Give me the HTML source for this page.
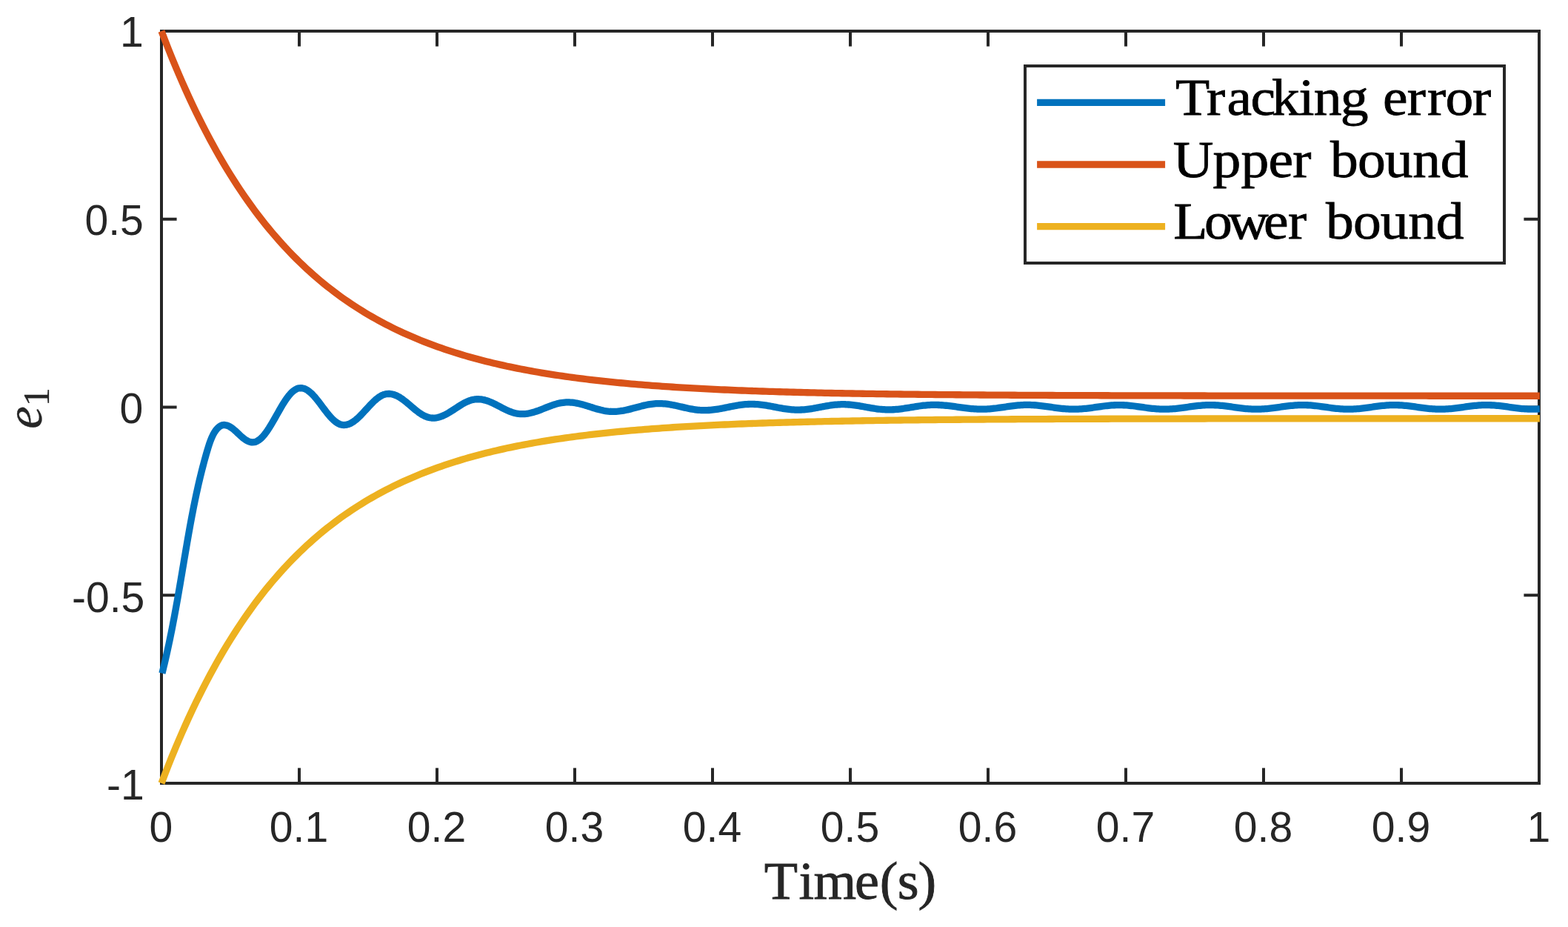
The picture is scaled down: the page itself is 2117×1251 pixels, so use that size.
<!DOCTYPE html>
<html lang="en"><head><meta charset="utf-8"><title>Tracking error</title>
<style>
html,body{margin:0;padding:0;background:#fff;}
body{width:2117px;height:1251px;overflow:hidden;}
svg{display:block;}
.tk{font-family:"Liberation Sans",sans-serif;font-size:58px;fill:#262626;}
.lb{font-family:"Liberation Serif",serif;font-size:70px;fill:#262626;stroke:#262626;stroke-width:0.8px;}
.lg{font-family:"Liberation Serif",serif;font-size:70px;fill:#000;stroke:#000;stroke-width:0.8px;}
</style></head><body>
<svg width="2117" height="1251" viewBox="0 0 2117 1251">
<rect x="0" y="0" width="2117" height="1251" fill="#fff"/>

<g stroke="#262626" stroke-width="4" fill="none" stroke-linecap="butt">
<rect x="218.0" y="42.0" width="1860.0" height="1015.0"/>
<line x1="404.0" y1="1057.0" x2="404.0" y2="1036.4"/>
<line x1="404.0" y1="42.0" x2="404.0" y2="62.6"/>
<line x1="590.0" y1="1057.0" x2="590.0" y2="1036.4"/>
<line x1="590.0" y1="42.0" x2="590.0" y2="62.6"/>
<line x1="776.0" y1="1057.0" x2="776.0" y2="1036.4"/>
<line x1="776.0" y1="42.0" x2="776.0" y2="62.6"/>
<line x1="962.0" y1="1057.0" x2="962.0" y2="1036.4"/>
<line x1="962.0" y1="42.0" x2="962.0" y2="62.6"/>
<line x1="1148.0" y1="1057.0" x2="1148.0" y2="1036.4"/>
<line x1="1148.0" y1="42.0" x2="1148.0" y2="62.6"/>
<line x1="1334.0" y1="1057.0" x2="1334.0" y2="1036.4"/>
<line x1="1334.0" y1="42.0" x2="1334.0" y2="62.6"/>
<line x1="1520.0" y1="1057.0" x2="1520.0" y2="1036.4"/>
<line x1="1520.0" y1="42.0" x2="1520.0" y2="62.6"/>
<line x1="1706.0" y1="1057.0" x2="1706.0" y2="1036.4"/>
<line x1="1706.0" y1="42.0" x2="1706.0" y2="62.6"/>
<line x1="1892.0" y1="1057.0" x2="1892.0" y2="1036.4"/>
<line x1="1892.0" y1="42.0" x2="1892.0" y2="62.6"/>
<line x1="218.0" y1="295.75" x2="238.6" y2="295.75"/>
<line x1="2078.0" y1="295.75" x2="2057.4" y2="295.75"/>
<line x1="218.0" y1="549.50" x2="238.6" y2="549.50"/>
<line x1="2078.0" y1="549.50" x2="2057.4" y2="549.50"/>
<line x1="218.0" y1="803.25" x2="238.6" y2="803.25"/>
<line x1="2078.0" y1="803.25" x2="2057.4" y2="803.25"/>
</g>
<g class="tk">
<text transform="translate(217.5,1136.3) scale(0.985,1)" text-anchor="middle">0</text>
<text transform="translate(403.5,1136.3) scale(0.985,1)" text-anchor="middle">0.1</text>
<text transform="translate(589.5,1136.3) scale(0.985,1)" text-anchor="middle">0.2</text>
<text transform="translate(775.5,1136.3) scale(0.985,1)" text-anchor="middle">0.3</text>
<text transform="translate(961.5,1136.3) scale(0.985,1)" text-anchor="middle">0.4</text>
<text transform="translate(1147.5,1136.3) scale(0.985,1)" text-anchor="middle">0.5</text>
<text transform="translate(1333.5,1136.3) scale(0.985,1)" text-anchor="middle">0.6</text>
<text transform="translate(1519.5,1136.3) scale(0.985,1)" text-anchor="middle">0.7</text>
<text transform="translate(1705.5,1136.3) scale(0.985,1)" text-anchor="middle">0.8</text>
<text transform="translate(1891.5,1136.3) scale(0.985,1)" text-anchor="middle">0.9</text>
<text transform="translate(2077.5,1136.3) scale(0.985,1)" text-anchor="middle">1</text>
<text transform="translate(193.7,63.0) scale(0.985,1)" text-anchor="end">1</text>
<text transform="translate(193.8,317.4) scale(0.985,1)" text-anchor="end">0.5</text>
<text transform="translate(193.3,571.2) scale(0.985,1)" text-anchor="end">0</text>
<text transform="translate(195.3,825.5) scale(0.985,1)" text-anchor="end">-0.5</text>
<text transform="translate(194.7,1079.0) scale(0.985,1)" text-anchor="end">-1</text>
</g>
<text class="lb" transform="translate(0,1212.90) scale(1.06,1.02)" x="973.43 1017.52 1036.31 1088.79 1120.48 1143.19 1169.42" y="0">Time(s)</text>
<text class="lb" style="font-size:69px;font-style:italic;stroke-width:0.3px" transform="translate(56.2,578.8) rotate(-90)">e</text>
<text class="lb" style="font-size:50px;stroke-width:0.3px" transform="translate(66.1,548.2) rotate(-90)">1</text>
<g fill="none" stroke-width="9.3" stroke-linejoin="round" stroke-linecap="butt">
<path stroke="#0072BD" d="M218.93,908.60 L220.02,904.19 L221.08,899.77 L222.13,895.36 L223.16,890.94 L224.17,886.53 L225.16,882.11 L226.14,877.70 L227.10,873.28 L228.05,868.87 L228.97,864.46 L229.89,860.04 L230.79,855.63 L231.68,851.21 L232.55,846.80 L233.41,842.38 L234.26,837.97 L235.09,833.55 L235.92,829.14 L236.74,824.72 L237.54,820.31 L238.34,815.90 L239.13,811.48 L239.91,807.07 L240.68,802.65 L241.45,798.24 L242.21,793.82 L242.97,789.41 L243.72,784.99 L244.47,780.58 L245.21,776.17 L245.96,771.75 L246.70,767.34 L247.44,762.92 L248.18,758.51 L248.93,754.09 L249.67,749.68 L250.42,745.26 L251.17,740.85 L251.92,736.43 L252.68,732.02 L253.45,727.61 L254.22,723.19 L255.00,718.78 L255.79,714.36 L256.59,709.95 L257.40,705.53 L258.21,701.12 L259.05,696.70 L259.89,692.29 L260.75,687.88 L261.62,683.46 L262.51,679.05 L263.42,674.63 L264.34,670.22 L265.29,665.80 L266.25,661.39 L267.23,656.97 L268.24,652.56 L269.27,648.14 L270.32,643.73 L271.40,639.32 L272.51,634.90 L273.64,630.49 L274.80,626.07 L275.99,621.66 L277.21,617.24 L278.46,612.83 L279.75,608.41 L281.07,604.00 L281.60,602.28 L282.13,600.62 L282.66,599.02 L283.19,597.49 L283.72,596.01 L284.25,594.59 L284.78,593.23 L285.31,591.93 L285.84,590.68 L286.38,589.49 L286.91,588.35 L287.44,587.26 L287.97,586.22 L288.50,585.23 L289.03,584.30 L289.56,583.41 L290.09,582.57 L290.62,581.77 L291.15,581.02 L291.68,580.32 L292.21,579.65 L292.75,579.03 L293.28,578.45 L293.81,577.89 L294.34,577.37 L294.87,576.88 L295.40,576.42 L295.93,575.99 L296.46,575.60 L296.99,575.24 L297.52,574.91 L298.05,574.62 L298.58,574.36 L299.12,574.13 L299.65,573.94 L300.18,573.78 L300.71,573.66 L301.24,573.57 L301.77,573.52 L302.30,573.50 L304.34,573.66 L306.38,574.13 L308.43,574.91 L310.47,575.97 L312.51,577.28 L314.55,578.80 L316.59,580.50 L318.64,582.33 L320.68,584.23 L322.72,586.17 L324.76,588.07 L326.81,589.90 L328.85,591.60 L330.89,593.12 L332.93,594.43 L334.97,595.49 L337.02,596.27 L339.06,596.74 L341.10,596.90 L343.12,596.72 L345.14,596.20 L347.17,595.32 L349.19,594.11 L351.21,592.57 L353.23,590.72 L355.25,588.58 L357.28,586.17 L359.30,583.50 L361.32,580.61 L363.34,577.53 L365.36,574.28 L367.38,570.89 L369.41,567.40 L371.43,563.84 L373.45,560.25 L375.47,556.66 L377.49,553.10 L379.52,549.61 L381.54,546.22 L383.56,542.97 L385.58,539.89 L387.60,537.00 L389.62,534.33 L391.65,531.92 L393.67,529.78 L395.69,527.93 L397.71,526.39 L399.73,525.18 L401.76,524.30 L403.78,523.78 L405.80,523.60 L407.82,523.75 L409.83,524.18 L411.85,524.91 L413.87,525.91 L415.89,527.18 L417.90,528.70 L419.92,530.45 L421.94,532.42 L423.96,534.57 L425.97,536.89 L427.99,539.35 L430.01,541.91 L432.02,544.56 L434.04,547.25 L436.06,549.95 L438.08,552.64 L440.09,555.29 L442.11,557.85 L444.13,560.31 L446.14,562.63 L448.16,564.78 L450.18,566.75 L452.20,568.50 L454.21,570.02 L456.23,571.29 L458.25,572.29 L460.27,573.02 L462.28,573.45 L464.30,573.60 L466.31,573.48 L468.31,573.14 L470.32,572.57 L472.33,571.78 L474.33,570.77 L476.34,569.57 L478.35,568.18 L480.35,566.62 L482.36,564.90 L484.37,563.05 L486.37,561.08 L488.38,559.02 L490.39,556.89 L492.39,554.71 L494.40,552.50 L496.41,550.29 L498.41,548.11 L500.42,545.98 L502.43,543.92 L504.43,541.95 L506.44,540.10 L508.45,538.38 L510.45,536.82 L512.46,535.43 L514.47,534.23 L516.47,533.22 L518.48,532.43 L520.49,531.86 L522.49,531.52 L524.50,531.40 L526.50,531.49 L528.50,531.76 L530.50,532.20 L532.50,532.81 L534.50,533.59 L536.50,534.52 L538.50,535.60 L540.50,536.81 L542.50,538.14 L544.50,539.57 L546.50,541.10 L548.50,542.70 L550.50,544.35 L552.50,546.04 L554.50,547.75 L556.50,549.46 L558.50,551.15 L560.50,552.80 L562.50,554.40 L564.50,555.92 L566.50,557.36 L568.50,558.69 L570.50,559.90 L572.50,560.98 L574.50,561.91 L576.50,562.69 L578.50,563.30 L580.50,563.74 L582.50,564.01 L584.50,564.10 L586.51,564.03 L588.53,563.82 L590.54,563.48 L592.55,563.00 L594.57,562.40 L596.58,561.67 L598.59,560.84 L600.61,559.90 L602.62,558.86 L604.63,557.75 L606.65,556.57 L608.66,555.32 L610.67,554.04 L612.69,552.73 L614.70,551.40 L616.71,550.07 L618.73,548.76 L620.74,547.48 L622.75,546.23 L624.77,545.05 L626.78,543.94 L628.79,542.90 L630.81,541.96 L632.82,541.13 L634.83,540.40 L636.85,539.80 L638.86,539.32 L640.87,538.98 L642.89,538.77 L644.90,538.70 L646.95,538.76 L649.00,538.93 L651.06,539.22 L653.11,539.62 L655.16,540.13 L657.21,540.74 L659.26,541.44 L661.31,542.23 L663.37,543.09 L665.42,544.02 L667.47,545.00 L669.52,546.02 L671.57,547.08 L673.62,548.16 L675.68,549.24 L677.73,550.32 L679.78,551.38 L681.83,552.40 L683.88,553.38 L685.93,554.31 L687.99,555.17 L690.04,555.96 L692.09,556.66 L694.14,557.27 L696.19,557.78 L698.24,558.18 L700.30,558.47 L702.35,558.64 L704.40,558.70 L706.40,558.66 L708.40,558.54 L710.40,558.34 L712.40,558.06 L714.40,557.71 L716.40,557.28 L718.40,556.79 L720.40,556.24 L722.40,555.64 L724.40,554.98 L726.40,554.28 L728.40,553.54 L730.40,552.78 L732.40,552.00 L734.40,551.20 L736.40,550.40 L738.40,549.60 L740.40,548.82 L742.40,548.06 L744.40,547.32 L746.40,546.62 L748.40,545.96 L750.40,545.36 L752.40,544.81 L754.40,544.32 L756.40,543.89 L758.40,543.54 L760.40,543.26 L762.40,543.06 L764.40,542.94 L766.40,542.90 L768.44,542.93 L770.48,543.04 L772.52,543.21 L774.56,543.44 L776.60,543.74 L778.64,544.09 L780.68,544.51 L782.72,544.97 L784.76,545.48 L786.80,546.02 L788.84,546.61 L790.88,547.22 L792.92,547.85 L794.96,548.50 L797.00,549.15 L799.04,549.80 L801.08,550.45 L803.12,551.08 L805.16,551.69 L807.20,552.27 L809.24,552.82 L811.28,553.33 L813.32,553.79 L815.36,554.21 L817.40,554.56 L819.44,554.86 L821.48,555.09 L823.52,555.26 L825.56,555.37 L827.60,555.40 L829.60,555.37 L831.60,555.29 L833.60,555.15 L835.60,554.96 L837.60,554.72 L839.60,554.43 L841.60,554.10 L843.60,553.72 L845.60,553.31 L847.60,552.86 L849.60,552.38 L851.60,551.88 L853.60,551.35 L855.60,550.82 L857.60,550.27 L859.60,549.73 L861.60,549.18 L863.60,548.65 L865.60,548.12 L867.60,547.62 L869.60,547.14 L871.60,546.69 L873.60,546.28 L875.60,545.90 L877.60,545.57 L879.60,545.28 L881.60,545.04 L883.60,544.85 L885.60,544.71 L887.60,544.63 L889.60,544.60 L891.64,544.62 L893.69,544.70 L895.73,544.82 L897.77,544.99 L899.82,545.21 L901.86,545.47 L903.90,545.77 L905.95,546.11 L907.99,546.48 L910.03,546.88 L912.08,547.30 L914.12,547.74 L916.16,548.20 L918.21,548.67 L920.25,549.15 L922.29,549.63 L924.34,550.10 L926.38,550.56 L928.42,551.00 L930.47,551.43 L932.51,551.82 L934.55,552.19 L936.60,552.53 L938.64,552.83 L940.68,553.09 L942.73,553.31 L944.77,553.48 L946.81,553.60 L948.86,553.68 L950.90,553.70 L952.95,553.68 L955.01,553.62 L957.06,553.51 L959.12,553.36 L961.17,553.18 L963.23,552.96 L965.28,552.70 L967.34,552.41 L969.39,552.09 L971.45,551.75 L973.50,551.38 L975.56,550.99 L977.61,550.59 L979.67,550.18 L981.72,549.76 L983.78,549.34 L985.83,548.92 L987.89,548.51 L989.94,548.11 L992.00,547.72 L994.05,547.35 L996.11,547.01 L998.16,546.69 L1000.22,546.40 L1002.27,546.14 L1004.33,545.92 L1006.38,545.74 L1008.44,545.59 L1010.49,545.48 L1012.55,545.42 L1014.60,545.40 L1016.63,545.42 L1018.66,545.48 L1020.69,545.58 L1022.72,545.71 L1024.75,545.88 L1026.77,546.09 L1028.80,546.33 L1030.83,546.60 L1032.86,546.89 L1034.89,547.21 L1036.92,547.55 L1038.95,547.91 L1040.98,548.28 L1043.01,548.67 L1045.04,549.06 L1047.06,549.44 L1049.09,549.83 L1051.12,550.22 L1053.15,550.59 L1055.18,550.95 L1057.21,551.29 L1059.24,551.61 L1061.27,551.90 L1063.30,552.17 L1065.33,552.41 L1067.35,552.62 L1069.38,552.79 L1071.41,552.92 L1073.44,553.02 L1075.47,553.08 L1077.50,553.10 L1079.51,553.08 L1081.52,553.02 L1083.53,552.92 L1085.54,552.78 L1087.55,552.60 L1089.56,552.39 L1091.57,552.15 L1093.58,551.88 L1095.59,551.57 L1097.60,551.25 L1099.61,550.90 L1101.62,550.54 L1103.63,550.17 L1105.64,549.79 L1107.65,549.40 L1109.66,549.01 L1111.67,548.63 L1113.68,548.26 L1115.69,547.90 L1117.70,547.55 L1119.71,547.23 L1121.72,546.92 L1123.73,546.65 L1125.74,546.41 L1127.75,546.20 L1129.76,546.02 L1131.77,545.88 L1133.78,545.78 L1135.79,545.72 L1137.80,545.70 L1139.80,545.72 L1141.80,545.77 L1143.80,545.87 L1145.80,545.99 L1147.80,546.15 L1149.80,546.35 L1151.80,546.57 L1153.80,546.82 L1155.80,547.10 L1157.80,547.40 L1159.80,547.71 L1161.80,548.05 L1163.80,548.40 L1165.80,548.75 L1167.80,549.12 L1169.80,549.48 L1171.80,549.85 L1173.80,550.20 L1175.80,550.55 L1177.80,550.89 L1179.80,551.20 L1181.80,551.50 L1183.80,551.78 L1185.80,552.03 L1187.80,552.25 L1189.80,552.45 L1191.80,552.61 L1193.80,552.73 L1195.80,552.83 L1197.80,552.88 L1199.80,552.90 L1201.84,552.88 L1203.89,552.83 L1205.93,552.74 L1207.97,552.62 L1210.02,552.46 L1212.06,552.28 L1214.10,552.07 L1216.15,551.82 L1218.19,551.56 L1220.23,551.27 L1222.28,550.97 L1224.32,550.65 L1226.36,550.33 L1228.41,549.99 L1230.45,549.65 L1232.49,549.31 L1234.54,548.97 L1236.58,548.65 L1238.62,548.33 L1240.67,548.02 L1242.71,547.74 L1244.75,547.48 L1246.80,547.23 L1248.84,547.02 L1250.88,546.84 L1252.93,546.68 L1254.97,546.56 L1257.01,546.47 L1259.06,546.42 L1261.10,546.40 L1263.12,546.41 L1265.14,546.46 L1267.16,546.52 L1269.17,546.62 L1271.19,546.74 L1273.21,546.89 L1275.23,547.06 L1277.25,547.25 L1279.27,547.46 L1281.29,547.69 L1283.31,547.93 L1285.33,548.19 L1287.34,548.46 L1289.36,548.73 L1291.38,549.02 L1293.40,549.30 L1295.42,549.58 L1297.44,549.87 L1299.46,550.14 L1301.47,550.41 L1303.49,550.67 L1305.51,550.91 L1307.53,551.14 L1309.55,551.35 L1311.57,551.54 L1313.59,551.71 L1315.61,551.86 L1317.62,551.98 L1319.64,552.08 L1321.66,552.14 L1323.68,552.19 L1325.70,552.20 L1327.74,552.18 L1329.77,552.14 L1331.81,552.06 L1333.85,551.95 L1335.88,551.81 L1337.92,551.65 L1339.96,551.46 L1341.99,551.24 L1344.03,551.00 L1346.07,550.75 L1348.10,550.48 L1350.14,550.20 L1352.18,549.90 L1354.21,549.60 L1356.25,549.30 L1358.29,549.00 L1360.32,548.70 L1362.36,548.40 L1364.40,548.12 L1366.43,547.85 L1368.47,547.60 L1370.51,547.36 L1372.54,547.14 L1374.58,546.95 L1376.62,546.79 L1378.65,546.65 L1380.69,546.54 L1382.73,546.46 L1384.76,546.42 L1386.80,546.40 L1388.83,546.41 L1390.86,546.46 L1392.89,546.53 L1394.92,546.64 L1396.95,546.76 L1398.97,546.92 L1401.00,547.10 L1403.03,547.30 L1405.06,547.52 L1407.09,547.77 L1409.12,548.02 L1411.15,548.29 L1413.18,548.57 L1415.21,548.86 L1417.24,549.15 L1419.26,549.45 L1421.29,549.74 L1423.32,550.03 L1425.35,550.31 L1427.38,550.58 L1429.41,550.83 L1431.44,551.08 L1433.47,551.30 L1435.50,551.50 L1437.53,551.68 L1439.55,551.84 L1441.58,551.96 L1443.61,552.07 L1445.64,552.14 L1447.67,552.19 L1449.70,552.20 L1451.74,552.18 L1453.78,552.14 L1455.82,552.06 L1457.86,551.96 L1459.90,551.82 L1461.94,551.67 L1463.98,551.48 L1466.02,551.27 L1468.06,551.05 L1470.10,550.80 L1472.14,550.54 L1474.18,550.27 L1476.22,549.98 L1478.26,549.69 L1480.30,549.40 L1482.34,549.11 L1484.38,548.82 L1486.42,548.53 L1488.46,548.26 L1490.50,548.00 L1492.54,547.75 L1494.58,547.53 L1496.62,547.32 L1498.66,547.13 L1500.70,546.98 L1502.74,546.84 L1504.78,546.74 L1506.82,546.66 L1508.86,546.62 L1510.90,546.60 L1512.94,546.62 L1514.98,546.66 L1517.02,546.74 L1519.06,546.84 L1521.10,546.98 L1523.14,547.13 L1525.18,547.32 L1527.22,547.53 L1529.26,547.75 L1531.30,548.00 L1533.34,548.26 L1535.38,548.53 L1537.42,548.82 L1539.46,549.11 L1541.50,549.40 L1543.54,549.69 L1545.58,549.98 L1547.62,550.27 L1549.66,550.54 L1551.70,550.80 L1553.74,551.05 L1555.78,551.27 L1557.82,551.48 L1559.86,551.67 L1561.90,551.82 L1563.94,551.96 L1565.98,552.06 L1568.02,552.14 L1570.06,552.18 L1572.10,552.20 L1574.10,552.19 L1576.11,552.14 L1578.11,552.07 L1580.11,551.97 L1582.12,551.85 L1584.12,551.70 L1586.12,551.52 L1588.13,551.33 L1590.13,551.11 L1592.13,550.88 L1594.14,550.63 L1596.14,550.37 L1598.14,550.10 L1600.15,549.82 L1602.15,549.54 L1604.15,549.26 L1606.15,548.98 L1608.16,548.70 L1610.16,548.43 L1612.16,548.17 L1614.17,547.92 L1616.17,547.69 L1618.17,547.47 L1620.18,547.28 L1622.18,547.10 L1624.18,546.95 L1626.19,546.83 L1628.19,546.73 L1630.19,546.66 L1632.20,546.61 L1634.20,546.60 L1636.20,546.61 L1638.20,546.66 L1640.20,546.73 L1642.20,546.83 L1644.20,546.95 L1646.20,547.10 L1648.20,547.28 L1650.20,547.47 L1652.20,547.69 L1654.20,547.92 L1656.20,548.17 L1658.20,548.43 L1660.20,548.70 L1662.20,548.98 L1664.20,549.26 L1666.20,549.54 L1668.20,549.82 L1670.20,550.10 L1672.20,550.37 L1674.20,550.63 L1676.20,550.88 L1678.20,551.11 L1680.20,551.33 L1682.20,551.52 L1684.20,551.70 L1686.20,551.85 L1688.20,551.97 L1690.20,552.07 L1692.20,552.14 L1694.20,552.19 L1696.20,552.20 L1698.23,552.19 L1700.25,552.14 L1702.28,552.07 L1704.30,551.97 L1706.33,551.85 L1708.35,551.70 L1710.38,551.52 L1712.41,551.33 L1714.43,551.11 L1716.46,550.88 L1718.48,550.63 L1720.51,550.37 L1722.54,550.10 L1724.56,549.82 L1726.59,549.54 L1728.61,549.26 L1730.64,548.98 L1732.66,548.70 L1734.69,548.43 L1736.72,548.17 L1738.74,547.92 L1740.77,547.69 L1742.79,547.47 L1744.82,547.28 L1746.85,547.10 L1748.87,546.95 L1750.90,546.83 L1752.92,546.73 L1754.95,546.66 L1756.97,546.61 L1759.00,546.60 L1761.05,546.62 L1763.10,546.66 L1765.15,546.74 L1767.20,546.84 L1769.25,546.98 L1771.30,547.13 L1773.35,547.32 L1775.40,547.53 L1777.45,547.75 L1779.50,548.00 L1781.55,548.26 L1783.60,548.53 L1785.65,548.82 L1787.70,549.11 L1789.75,549.40 L1791.80,549.69 L1793.85,549.98 L1795.90,550.27 L1797.95,550.54 L1800.00,550.80 L1802.05,551.05 L1804.10,551.27 L1806.15,551.48 L1808.20,551.67 L1810.25,551.82 L1812.30,551.96 L1814.35,552.06 L1816.40,552.14 L1818.45,552.18 L1820.50,552.20 L1822.50,552.19 L1824.50,552.14 L1826.50,552.07 L1828.50,551.97 L1830.50,551.85 L1832.50,551.70 L1834.50,551.52 L1836.50,551.33 L1838.50,551.11 L1840.50,550.88 L1842.50,550.63 L1844.50,550.37 L1846.50,550.10 L1848.50,549.82 L1850.50,549.54 L1852.50,549.26 L1854.50,548.98 L1856.50,548.70 L1858.50,548.43 L1860.50,548.17 L1862.50,547.92 L1864.50,547.69 L1866.50,547.47 L1868.50,547.28 L1870.50,547.10 L1872.50,546.95 L1874.50,546.83 L1876.50,546.73 L1878.50,546.66 L1880.50,546.61 L1882.50,546.60 L1884.50,546.61 L1886.51,546.66 L1888.51,546.73 L1890.51,546.83 L1892.52,546.95 L1894.52,547.10 L1896.52,547.28 L1898.53,547.47 L1900.53,547.69 L1902.53,547.92 L1904.54,548.17 L1906.54,548.43 L1908.54,548.70 L1910.55,548.98 L1912.55,549.26 L1914.55,549.54 L1916.55,549.82 L1918.56,550.10 L1920.56,550.37 L1922.56,550.63 L1924.57,550.88 L1926.57,551.11 L1928.57,551.33 L1930.58,551.52 L1932.58,551.70 L1934.58,551.85 L1936.59,551.97 L1938.59,552.07 L1940.59,552.14 L1942.60,552.19 L1944.60,552.20 L1946.61,552.19 L1948.63,552.14 L1950.64,552.07 L1952.65,551.97 L1954.66,551.85 L1956.68,551.70 L1958.69,551.52 L1960.70,551.33 L1962.72,551.11 L1964.73,550.88 L1966.74,550.63 L1968.75,550.37 L1970.77,550.10 L1972.78,549.82 L1974.79,549.54 L1976.81,549.26 L1978.82,548.98 L1980.83,548.70 L1982.85,548.43 L1984.86,548.17 L1986.87,547.92 L1988.88,547.69 L1990.90,547.47 L1992.91,547.28 L1994.92,547.10 L1996.94,546.95 L1998.95,546.83 L2000.96,546.73 L2002.97,546.66 L2004.99,546.61 L2007.00,546.60 L2009.00,546.61 L2011.00,546.66 L2013.00,546.73 L2015.00,546.83 L2017.00,546.95 L2019.00,547.10 L2021.00,547.28 L2023.00,547.47 L2025.00,547.69 L2027.00,547.92 L2029.00,548.17 L2031.00,548.43 L2033.00,548.70 L2035.00,548.98 L2037.00,549.26 L2039.00,549.54 L2041.00,549.82 L2043.00,550.10 L2045.00,550.37 L2047.00,550.63 L2049.00,550.88 L2051.00,551.11 L2053.00,551.33 L2055.00,551.52 L2057.00,551.70 L2059.00,551.85 L2061.00,551.97 L2063.00,552.07 L2065.00,552.14 L2067.00,552.19 L2069.00,552.20 L2071.00,552.19 L2073.00,552.14 L2075.00,552.07 L2077.00,551.97 L2079.00,551.85 L2079.00,551.85"/>
<path stroke="#D95319" d="M218.00,42.00 L222.66,54.19 L227.33,66.08 L231.99,77.67 L236.66,88.98 L241.32,100.01 L245.98,110.76 L250.65,121.25 L255.31,131.48 L259.98,141.45 L264.64,151.18 L269.31,160.67 L273.97,169.92 L278.63,178.94 L283.30,187.74 L287.96,196.33 L292.63,204.69 L297.29,212.86 L301.95,220.82 L306.62,228.58 L311.28,236.15 L315.95,243.53 L320.61,250.73 L325.28,257.75 L329.94,264.60 L334.60,271.28 L339.27,277.79 L343.93,284.14 L348.60,290.34 L353.26,296.38 L357.92,302.27 L362.59,308.02 L367.25,313.62 L371.92,319.08 L376.58,324.41 L381.25,329.61 L385.91,334.68 L390.57,339.62 L395.24,344.44 L399.90,349.14 L404.57,353.73 L409.23,358.20 L413.89,362.56 L418.56,366.81 L423.22,370.96 L427.89,375.00 L432.55,378.95 L437.22,382.79 L441.88,386.55 L446.54,390.20 L451.21,393.77 L455.87,397.25 L460.54,400.64 L465.20,403.95 L469.86,407.18 L474.53,410.33 L479.19,413.40 L483.86,416.39 L488.52,419.31 L493.19,422.16 L497.85,424.93 L502.51,427.64 L507.18,430.28 L511.84,432.86 L516.51,435.37 L521.17,437.82 L525.83,440.21 L530.50,442.54 L535.16,444.81 L539.83,447.02 L544.49,449.19 L549.16,451.29 L553.82,453.35 L558.48,455.35 L563.15,457.31 L567.81,459.21 L572.48,461.07 L577.14,462.88 L581.80,464.65 L586.47,466.38 L591.13,468.06 L595.80,469.70 L600.46,471.30 L605.13,472.86 L609.79,474.38 L614.45,475.86 L619.12,477.31 L623.78,478.72 L628.45,480.09 L633.11,481.44 L637.77,482.74 L642.44,484.02 L647.10,485.26 L651.77,486.48 L656.43,487.66 L661.10,488.82 L665.76,489.94 L670.42,491.04 L675.09,492.11 L679.75,493.15 L684.42,494.17 L689.08,495.17 L693.74,496.13 L698.41,497.08 L703.07,498.00 L707.74,498.90 L712.40,499.77 L717.07,500.63 L721.73,501.46 L726.39,502.27 L731.06,503.07 L735.72,503.84 L740.39,504.59 L745.05,505.33 L749.71,506.05 L754.38,506.74 L759.04,507.43 L763.71,508.09 L768.37,508.74 L773.04,509.37 L777.70,509.99 L782.36,510.59 L787.03,511.18 L791.69,511.75 L796.36,512.31 L801.02,512.85 L805.68,513.38 L810.35,513.90 L815.01,514.40 L819.68,514.90 L824.34,515.38 L829.01,515.84 L833.67,516.30 L838.33,516.75 L843.00,517.18 L847.66,517.60 L852.33,518.02 L856.99,518.42 L861.65,518.81 L866.32,519.19 L870.98,519.57 L875.65,519.93 L880.31,520.29 L884.97,520.63 L889.64,520.97 L894.30,521.30 L898.97,521.62 L903.63,521.93 L908.30,522.24 L912.96,522.54 L917.62,522.83 L922.29,523.11 L926.95,523.39 L931.62,523.66 L936.28,523.92 L940.94,524.18 L945.61,524.43 L950.27,524.67 L954.94,524.91 L959.60,525.14 L964.27,525.37 L968.93,525.59 L973.59,525.80 L978.26,526.01 L982.92,526.22 L987.59,526.42 L992.25,526.61 L996.91,526.80 L1001.58,526.99 L1006.24,527.17 L1010.91,527.34 L1015.57,527.52 L1020.24,527.68 L1024.90,527.85 L1029.56,528.00 L1034.23,528.16 L1038.89,528.31 L1043.56,528.46 L1048.22,528.60 L1052.88,528.74 L1057.55,528.88 L1062.21,529.01 L1066.88,529.14 L1071.54,529.27 L1076.21,529.40 L1080.87,529.52 L1085.53,529.63 L1090.20,529.75 L1094.86,529.86 L1099.53,529.97 L1104.19,530.08 L1108.85,530.18 L1113.52,530.28 L1118.18,530.38 L1122.85,530.48 L1127.51,530.57 L1132.18,530.66 L1136.84,530.75 L1141.50,530.84 L1146.17,530.93 L1150.83,531.01 L1155.50,531.09 L1160.16,531.17 L1164.82,531.24 L1169.49,531.32 L1174.15,531.39 L1178.82,531.46 L1183.48,531.53 L1188.15,531.60 L1192.81,531.67 L1197.47,531.73 L1202.14,531.80 L1206.80,531.86 L1211.47,531.92 L1216.13,531.98 L1220.79,532.03 L1225.46,532.09 L1230.12,532.14 L1234.79,532.19 L1239.45,532.25 L1244.12,532.30 L1248.78,532.35 L1253.44,532.39 L1258.11,532.44 L1262.77,532.49 L1267.44,532.53 L1272.10,532.57 L1276.76,532.62 L1281.43,532.66 L1286.09,532.70 L1290.76,532.74 L1295.42,532.77 L1300.09,532.81 L1304.75,532.85 L1309.41,532.88 L1314.08,532.92 L1318.74,532.95 L1323.41,532.98 L1328.07,533.02 L1332.73,533.05 L1337.40,533.08 L1342.06,533.11 L1346.73,533.14 L1351.39,533.16 L1356.06,533.19 L1360.72,533.22 L1365.38,533.24 L1370.05,533.27 L1374.71,533.29 L1379.38,533.32 L1384.04,533.34 L1388.70,533.37 L1393.37,533.39 L1398.03,533.41 L1402.70,533.43 L1407.36,533.45 L1412.03,533.47 L1416.69,533.49 L1421.35,533.51 L1426.02,533.53 L1430.68,533.55 L1435.35,533.57 L1440.01,533.58 L1444.67,533.60 L1449.34,533.62 L1454.00,533.63 L1458.67,533.65 L1463.33,533.67 L1467.99,533.68 L1472.66,533.70 L1477.32,533.71 L1481.99,533.72 L1486.65,533.74 L1491.32,533.75 L1495.98,533.76 L1500.64,533.78 L1505.31,533.79 L1509.97,533.80 L1514.64,533.81 L1519.30,533.82 L1523.96,533.84 L1528.63,533.85 L1533.29,533.86 L1537.96,533.87 L1542.62,533.88 L1547.29,533.89 L1551.95,533.90 L1556.61,533.91 L1561.28,533.92 L1565.94,533.92 L1570.61,533.93 L1575.27,533.94 L1579.93,533.95 L1584.60,533.96 L1589.26,533.97 L1593.93,533.97 L1598.59,533.98 L1603.26,533.99 L1607.92,534.00 L1612.58,534.00 L1617.25,534.01 L1621.91,534.02 L1626.58,534.02 L1631.24,534.03 L1635.90,534.03 L1640.57,534.04 L1645.23,534.05 L1649.90,534.05 L1654.56,534.06 L1659.23,534.06 L1663.89,534.07 L1668.55,534.07 L1673.22,534.08 L1677.88,534.08 L1682.55,534.09 L1687.21,534.09 L1691.87,534.10 L1696.54,534.10 L1701.20,534.11 L1705.87,534.11 L1710.53,534.11 L1715.20,534.12 L1719.86,534.12 L1724.52,534.13 L1729.19,534.13 L1733.85,534.13 L1738.52,534.14 L1743.18,534.14 L1747.84,534.14 L1752.51,534.15 L1757.17,534.15 L1761.84,534.15 L1766.50,534.16 L1771.17,534.16 L1775.83,534.16 L1780.49,534.16 L1785.16,534.17 L1789.82,534.17 L1794.49,534.17 L1799.15,534.17 L1803.81,534.18 L1808.48,534.18 L1813.14,534.18 L1817.81,534.18 L1822.47,534.19 L1827.14,534.19 L1831.80,534.19 L1836.46,534.19 L1841.13,534.20 L1845.79,534.20 L1850.46,534.20 L1855.12,534.20 L1859.78,534.20 L1864.45,534.20 L1869.11,534.21 L1873.78,534.21 L1878.44,534.21 L1883.11,534.21 L1887.77,534.21 L1892.43,534.21 L1897.10,534.22 L1901.76,534.22 L1906.43,534.22 L1911.09,534.22 L1915.75,534.22 L1920.42,534.22 L1925.08,534.22 L1929.75,534.23 L1934.41,534.23 L1939.08,534.23 L1943.74,534.23 L1948.40,534.23 L1953.07,534.23 L1957.73,534.23 L1962.40,534.23 L1967.06,534.23 L1971.72,534.24 L1976.39,534.24 L1981.05,534.24 L1985.72,534.24 L1990.38,534.24 L1995.05,534.24 L1999.71,534.24 L2004.37,534.24 L2009.04,534.24 L2013.70,534.24 L2018.37,534.24 L2023.03,534.24 L2027.69,534.25 L2032.36,534.25 L2037.02,534.25 L2041.69,534.25 L2046.35,534.25 L2051.02,534.25 L2055.68,534.25 L2060.34,534.25 L2065.01,534.25 L2069.67,534.25 L2074.34,534.25 L2079.00,534.25"/>
<path stroke="#EDB120" d="M218.00,1057.00 L222.66,1044.81 L227.33,1032.92 L231.99,1021.33 L236.66,1010.02 L241.32,998.99 L245.98,988.24 L250.65,977.75 L255.31,967.52 L259.98,957.55 L264.64,947.82 L269.31,938.33 L273.97,929.08 L278.63,920.06 L283.30,911.26 L287.96,902.67 L292.63,894.31 L297.29,886.14 L301.95,878.18 L306.62,870.42 L311.28,862.85 L315.95,855.47 L320.61,848.27 L325.28,841.25 L329.94,834.40 L334.60,827.72 L339.27,821.21 L343.93,814.86 L348.60,808.66 L353.26,802.62 L357.92,796.73 L362.59,790.98 L367.25,785.38 L371.92,779.92 L376.58,774.59 L381.25,769.39 L385.91,764.32 L390.57,759.38 L395.24,754.56 L399.90,749.86 L404.57,745.27 L409.23,740.80 L413.89,736.44 L418.56,732.19 L423.22,728.04 L427.89,724.00 L432.55,720.05 L437.22,716.21 L441.88,712.45 L446.54,708.80 L451.21,705.23 L455.87,701.75 L460.54,698.36 L465.20,695.05 L469.86,691.82 L474.53,688.67 L479.19,685.60 L483.86,682.61 L488.52,679.69 L493.19,676.84 L497.85,674.07 L502.51,671.36 L507.18,668.72 L511.84,666.14 L516.51,663.63 L521.17,661.18 L525.83,658.79 L530.50,656.46 L535.16,654.19 L539.83,651.98 L544.49,649.81 L549.16,647.71 L553.82,645.65 L558.48,643.65 L563.15,641.69 L567.81,639.79 L572.48,637.93 L577.14,636.12 L581.80,634.35 L586.47,632.62 L591.13,630.94 L595.80,629.30 L600.46,627.70 L605.13,626.14 L609.79,624.62 L614.45,623.14 L619.12,621.69 L623.78,620.28 L628.45,618.91 L633.11,617.56 L637.77,616.26 L642.44,614.98 L647.10,613.74 L651.77,612.52 L656.43,611.34 L661.10,610.18 L665.76,609.06 L670.42,607.96 L675.09,606.89 L679.75,605.85 L684.42,604.83 L689.08,603.83 L693.74,602.87 L698.41,601.92 L703.07,601.00 L707.74,600.10 L712.40,599.23 L717.07,598.37 L721.73,597.54 L726.39,596.73 L731.06,595.93 L735.72,595.16 L740.39,594.41 L745.05,593.67 L749.71,592.95 L754.38,592.26 L759.04,591.57 L763.71,590.91 L768.37,590.26 L773.04,589.63 L777.70,589.01 L782.36,588.41 L787.03,587.82 L791.69,587.25 L796.36,586.69 L801.02,586.15 L805.68,585.62 L810.35,585.10 L815.01,584.60 L819.68,584.10 L824.34,583.62 L829.01,583.16 L833.67,582.70 L838.33,582.25 L843.00,581.82 L847.66,581.40 L852.33,580.98 L856.99,580.58 L861.65,580.19 L866.32,579.81 L870.98,579.43 L875.65,579.07 L880.31,578.71 L884.97,578.37 L889.64,578.03 L894.30,577.70 L898.97,577.38 L903.63,577.07 L908.30,576.76 L912.96,576.46 L917.62,576.17 L922.29,575.89 L926.95,575.61 L931.62,575.34 L936.28,575.08 L940.94,574.82 L945.61,574.57 L950.27,574.33 L954.94,574.09 L959.60,573.86 L964.27,573.63 L968.93,573.41 L973.59,573.20 L978.26,572.99 L982.92,572.78 L987.59,572.58 L992.25,572.39 L996.91,572.20 L1001.58,572.01 L1006.24,571.83 L1010.91,571.66 L1015.57,571.48 L1020.24,571.32 L1024.90,571.15 L1029.56,571.00 L1034.23,570.84 L1038.89,570.69 L1043.56,570.54 L1048.22,570.40 L1052.88,570.26 L1057.55,570.12 L1062.21,569.99 L1066.88,569.86 L1071.54,569.73 L1076.21,569.60 L1080.87,569.48 L1085.53,569.37 L1090.20,569.25 L1094.86,569.14 L1099.53,569.03 L1104.19,568.92 L1108.85,568.82 L1113.52,568.72 L1118.18,568.62 L1122.85,568.52 L1127.51,568.43 L1132.18,568.34 L1136.84,568.25 L1141.50,568.16 L1146.17,568.07 L1150.83,567.99 L1155.50,567.91 L1160.16,567.83 L1164.82,567.76 L1169.49,567.68 L1174.15,567.61 L1178.82,567.54 L1183.48,567.47 L1188.15,567.40 L1192.81,567.33 L1197.47,567.27 L1202.14,567.20 L1206.80,567.14 L1211.47,567.08 L1216.13,567.02 L1220.79,566.97 L1225.46,566.91 L1230.12,566.86 L1234.79,566.81 L1239.45,566.75 L1244.12,566.70 L1248.78,566.65 L1253.44,566.61 L1258.11,566.56 L1262.77,566.51 L1267.44,566.47 L1272.10,566.43 L1276.76,566.38 L1281.43,566.34 L1286.09,566.30 L1290.76,566.26 L1295.42,566.23 L1300.09,566.19 L1304.75,566.15 L1309.41,566.12 L1314.08,566.08 L1318.74,566.05 L1323.41,566.02 L1328.07,565.98 L1332.73,565.95 L1337.40,565.92 L1342.06,565.89 L1346.73,565.86 L1351.39,565.84 L1356.06,565.81 L1360.72,565.78 L1365.38,565.76 L1370.05,565.73 L1374.71,565.71 L1379.38,565.68 L1384.04,565.66 L1388.70,565.63 L1393.37,565.61 L1398.03,565.59 L1402.70,565.57 L1407.36,565.55 L1412.03,565.53 L1416.69,565.51 L1421.35,565.49 L1426.02,565.47 L1430.68,565.45 L1435.35,565.43 L1440.01,565.42 L1444.67,565.40 L1449.34,565.38 L1454.00,565.37 L1458.67,565.35 L1463.33,565.33 L1467.99,565.32 L1472.66,565.30 L1477.32,565.29 L1481.99,565.28 L1486.65,565.26 L1491.32,565.25 L1495.98,565.24 L1500.64,565.22 L1505.31,565.21 L1509.97,565.20 L1514.64,565.19 L1519.30,565.18 L1523.96,565.16 L1528.63,565.15 L1533.29,565.14 L1537.96,565.13 L1542.62,565.12 L1547.29,565.11 L1551.95,565.10 L1556.61,565.09 L1561.28,565.08 L1565.94,565.08 L1570.61,565.07 L1575.27,565.06 L1579.93,565.05 L1584.60,565.04 L1589.26,565.03 L1593.93,565.03 L1598.59,565.02 L1603.26,565.01 L1607.92,565.00 L1612.58,565.00 L1617.25,564.99 L1621.91,564.98 L1626.58,564.98 L1631.24,564.97 L1635.90,564.97 L1640.57,564.96 L1645.23,564.95 L1649.90,564.95 L1654.56,564.94 L1659.23,564.94 L1663.89,564.93 L1668.55,564.93 L1673.22,564.92 L1677.88,564.92 L1682.55,564.91 L1687.21,564.91 L1691.87,564.90 L1696.54,564.90 L1701.20,564.89 L1705.87,564.89 L1710.53,564.89 L1715.20,564.88 L1719.86,564.88 L1724.52,564.87 L1729.19,564.87 L1733.85,564.87 L1738.52,564.86 L1743.18,564.86 L1747.84,564.86 L1752.51,564.85 L1757.17,564.85 L1761.84,564.85 L1766.50,564.84 L1771.17,564.84 L1775.83,564.84 L1780.49,564.84 L1785.16,564.83 L1789.82,564.83 L1794.49,564.83 L1799.15,564.83 L1803.81,564.82 L1808.48,564.82 L1813.14,564.82 L1817.81,564.82 L1822.47,564.81 L1827.14,564.81 L1831.80,564.81 L1836.46,564.81 L1841.13,564.80 L1845.79,564.80 L1850.46,564.80 L1855.12,564.80 L1859.78,564.80 L1864.45,564.80 L1869.11,564.79 L1873.78,564.79 L1878.44,564.79 L1883.11,564.79 L1887.77,564.79 L1892.43,564.79 L1897.10,564.78 L1901.76,564.78 L1906.43,564.78 L1911.09,564.78 L1915.75,564.78 L1920.42,564.78 L1925.08,564.78 L1929.75,564.77 L1934.41,564.77 L1939.08,564.77 L1943.74,564.77 L1948.40,564.77 L1953.07,564.77 L1957.73,564.77 L1962.40,564.77 L1967.06,564.77 L1971.72,564.76 L1976.39,564.76 L1981.05,564.76 L1985.72,564.76 L1990.38,564.76 L1995.05,564.76 L1999.71,564.76 L2004.37,564.76 L2009.04,564.76 L2013.70,564.76 L2018.37,564.76 L2023.03,564.76 L2027.69,564.75 L2032.36,564.75 L2037.02,564.75 L2041.69,564.75 L2046.35,564.75 L2051.02,564.75 L2055.68,564.75 L2060.34,564.75 L2065.01,564.75 L2069.67,564.75 L2074.34,564.75 L2079.00,564.75"/>
</g>
<rect x="1384" y="89" width="647" height="266" fill="#fff" stroke="#262626" stroke-width="4"/>
<line x1="1400.1" y1="138.4" x2="1573.1" y2="138.4" stroke="#0072BD" stroke-width="9.3"/>
<text class="lg" transform="translate(0,155.07) scale(1.08,1.0)" x="1469.36 1508.28 1533.71 1563.38 1589.89 1623.54 1642.37 1675.64 1710.64 1728.80 1759.06 1784.29 1807.04 1840.64" y="0">Tracking error</text>
<line x1="1400.1" y1="222.0" x2="1573.1" y2="222.0" stroke="#D95319" stroke-width="9.3"/>
<text class="lg" transform="translate(0,239.00) scale(1.08,1.0)" x="1466.48 1516.17 1551.45 1585.75 1615.87 1639.18 1663.00 1697.31 1731.25 1766.07 1800.74" y="0">Upper bound</text>
<line x1="1400.1" y1="305.6" x2="1573.1" y2="305.6" stroke="#EDB120" stroke-width="9.3"/>
<text class="lg" transform="translate(0,322.00) scale(1.08,1.0)" x="1466.80 1505.60 1535.17 1579.73 1610.22 1633.53 1657.35 1691.67 1725.60 1760.42 1795.09" y="0">Lower bound</text>
</svg>
</body></html>
